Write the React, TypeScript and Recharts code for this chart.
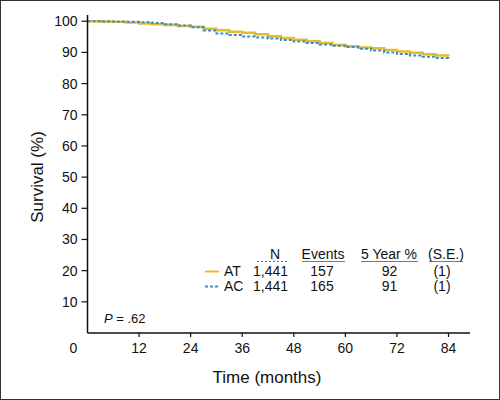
import React from 'react';
import { LineChart, Line, XAxis, YAxis, Legend } from 'recharts';

// months since randomisation
const months = [0, 3, 6, 9, 12, 15, 18, 21, 24, 27, 30, 33, 36, 39, 42, 45, 48, 51, 54, 57, 60, 63, 66, 69, 72, 75, 78, 81, 84];
// Kaplan-Meier survival (%) per arm
const atSurvival = [100, 99.9, 99.8, 99.6, 99.3, 99.0, 98.8, 98.5, 98.2, 97.6, 97.1, 96.6, 96.3, 95.8, 95.2, 94.6, 94.1, 93.6, 93.0, 92.4, 92.0, 91.6, 91.3, 90.8, 90.3, 89.9, 89.4, 89.0, 88.9];
const acSurvival = [100, 99.9, 99.8, 99.8, 99.7, 99.4, 99.0, 98.6, 98.1, 97.0, 96.1, 95.6, 95.1, 94.8, 94.5, 94.0, 93.5, 93.0, 92.5, 92.1, 91.7, 91.2, 90.6, 90.0, 89.5, 89.0, 88.6, 88.2, 88.0];

const xTicks = [0, 12, 24, 36, 48, 60, 72, 84];
const yTicks = [10, 20, 30, 40, 50, 60, 70, 80, 90, 100];

// legend table
const tableHeaders = ['N', 'Events', '5 Year %', '(S.E.)'];
const groups = ['AT', 'AC'];
const nPatients = ['1,441', '1,441'];
const events = [157, 165];
const fiveYear = [92, 91];
const stdErr = ['(1)', '(1)'];
const pValue = '.62';

const data = months.map((m, i) => ({ month: m, AT: atSurvival[i], AC: acSurvival[i] }));

const FONT = '"Liberation Sans", Arial, Helvetica, sans-serif';
const YELLOW = '#E4BD2C';
const BLUE = '#3B8CCB';

const XTick = (props: any) => {
  const { x, y, payload } = props;
  if (payload.value === 0) {
    return (
      <text x={x - 14} y={y} dy="0.71em" textAnchor="middle" fontSize={14} fontFamily={FONT} fill="#111">
        0
      </text>
    );
  }
  return (
    <g>
      <line x1={x} x2={x} y1={y - 10} y2={y - 6} stroke="#111" strokeWidth={1.2} />
      <text x={x} y={y} dy="0.71em" textAnchor="middle" fontSize={14} fontFamily={FONT} fill="#111">
        {payload.value}
      </text>
    </g>
  );
};

const TableLegend = (props: any) => {
  const payload = props.payload || [];
  const headerX = [275, 323, 389, 446];
  const underline: [number, number][] = [[257, 288], [302, 345], [361, 418], [429, 463]];
  const rowY = [276, 291];
  return (
    <div style={{ position: 'relative', width: 0, height: 0 }}>
      <svg width={500} height={400} style={{ position: 'absolute', left: 0, top: 0, overflow: 'visible' }}>
        <g fontFamily={FONT} fontSize={14} fill="#111">
          {tableHeaders.map((h, i) => (
            <text key={h} x={headerX[i]} y={259} textAnchor="middle">{h}</text>
          ))}
          {underline.map(([a, b], i) => (
            <line key={i} x1={a} x2={b} y1={261.5} y2={261.5} stroke="#555" strokeWidth={0.8}
              strokeDasharray={i === 0 ? '2 2' : undefined} />
          ))}
          {groups.map((g, i) => {
            const entry = payload.find((p: any) => p.value === g);
            const color = entry ? entry.color : '#000';
            const dash = entry && entry.payload ? entry.payload.strokeDasharray : undefined;
            const y = rowY[i];
            return (
              <g key={g}>
                <line x1={205} x2={219} y1={y - 4.5} y2={y - 4.5} stroke={color} strokeWidth={2}
                  strokeDasharray={dash} />
                <text x={224} y={y}>{g}</text>
                <text x={288} y={y} textAnchor="end">{nPatients[i]}</text>
                <text x={322} y={y} textAnchor="middle">{events[i]}</text>
                <text x={389.5} y={y} textAnchor="middle">{fiveYear[i]}</text>
                <text x={442} y={y} textAnchor="middle">{stdErr[i]}</text>
              </g>
            );
          })}
          <text x={104} y={323} fontSize={13}>
            <tspan fontStyle="italic">P</tspan> = {pValue}
          </text>
          <text x={267} y={383} textAnchor="middle" fontSize={17}>Time (months)</text>
          <text x={0} y={0} textAnchor="middle" fontSize={17} transform="translate(43,177) rotate(-90)">
            Survival (%)
          </text>
        </g>
      </svg>
    </div>
  );
};

export default function App() {
  return (
    <div
      style={{
        position: 'absolute',
        left: 0,
        top: 0,
        width: 500,
        height: 400,
        background: '#fff',
        boxShadow: 'inset 0 0 0 1px #333',
      }}
    >
      <LineChart width={500} height={400} data={data} margin={{ top: 15, right: 30, bottom: 0, left: 0 }}>
        <XAxis
          dataKey="month"
          type="number"
          domain={[0, 89]}
          ticks={xTicks}
          interval={0}
          height={67}
          tickSize={4}
          tickMargin={6}
          tickLine={false}
          tick={XTick}
          axisLine={{ stroke: '#111', strokeWidth: 1.5 }}
        />
        <YAxis
          type="number"
          domain={[0, 102]}
          ticks={yTicks}
          interval={0}
          width={87.5}
          tickSize={6}
          tickMargin={4}
          tick={{ fontSize: 14, fontFamily: FONT, fill: '#111' }}
          tickLine={{ stroke: '#111', strokeWidth: 1.2 }}
          axisLine={{ stroke: '#111', strokeWidth: 1.5 }}
        />
        <Line
          type="stepAfter"
          dataKey="AT"
          name="AT"
          stroke={YELLOW}
          strokeWidth={2.5}
          dot={false}
          isAnimationActive={false}
        />
        <Line
          type="stepAfter"
          dataKey="AC"
          name="AC"
          stroke={BLUE}
          strokeWidth={2}
          strokeDasharray="3 2"
          dot={false}
          isAnimationActive={false}
        />
        <Legend
          content={TableLegend}
          wrapperStyle={{ position: 'absolute', left: 0, top: 0, width: 0, height: 0 }}
        />
      </LineChart>
    </div>
  );
}
